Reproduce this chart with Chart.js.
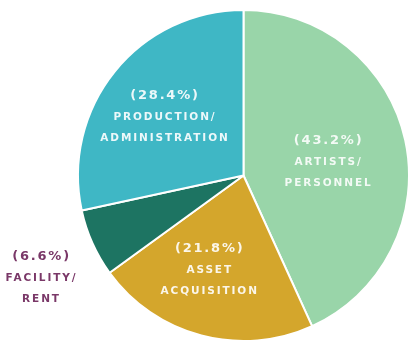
<!DOCTYPE html>
<html>
<head>
<meta charset="utf-8">
<script src="https://cdn.jsdelivr.net/npm/chart.js@4"></script>
<style>
  html, body { margin: 0; padding: 0; background: #ffffff; }
  #wrap { width: 410px; height: 342px; }
</style>
</head>
<body>
<div id="wrap"><canvas id="budgetChart"></canvas></div>
<script>
// budget split, clockwise from 12 o'clock
const categories = ['ARTISTS/ PERSONNEL', 'ASSET ACQUISITION', 'FACILITY/ RENT', 'PRODUCTION/ ADMINISTRATION'];
const shares = [43.2, 21.8, 6.6, 28.4];
const labelLines = [
    ['ARTISTS/', 'PERSONNEL'],
    ['ASSET', 'ACQUISITION'],
    ['FACILITY/', 'RENT'],
    ['PRODUCTION/', 'ADMINISTRATION']
];

const sliceColors = ['#99d5a9', '#d4a62c', '#1d7462', '#3fb7c5'];
const textColors = ['rgba(255,255,255,0.88)', 'rgba(255,255,255,0.9)', '#7a3868', 'rgba(255,255,255,0.9)'];
// label placement: fraction of radius along the slice middle, plus a small turn (deg)
const labelRadius = [0.52, 0.61, 1.37, 0.59];
const labelTurn = [3.6, 4.8, -2.9, -2.4];

const sliceLabels = {
    id: 'sliceLabels',
    afterDraw(chart) {
        const ctx = chart.ctx;
        const arcs = chart.getDatasetMeta(0).data;
        ctx.save();
        ctx.textAlign = 'center';
        ctx.textBaseline = 'middle';
        arcs.forEach((arc, i) => {
            const p = arc.getProps(['x', 'y', 'startAngle', 'endAngle', 'outerRadius'], true);
            const a = (p.startAngle + p.endAngle) / 2 + labelTurn[i] * Math.PI / 180;
            const r = p.outerRadius * labelRadius[i];
            const x = p.x + Math.cos(a) * r;
            const y = p.y + Math.sin(a) * r;
            ctx.fillStyle = textColors[i];

            ctx.font = 'bold 13px "DejaVu Sans"';
            ctx.letterSpacing = '1.8px';
            ctx.fillText('(' + shares[i].toFixed(1) + '%)', x, y - 22);

            ctx.font = 'bold 10.5px "DejaVu Sans"';
            ctx.letterSpacing = '1.9px';
            ctx.fillText(labelLines[i][0], x, y);
            ctx.fillText(labelLines[i][1], x, y + 21);
        });
        ctx.restore();
    }
};

const ctx = document.getElementById('budgetChart').getContext('2d');
new Chart(ctx, {
    type: 'pie',
    data: {
        labels: categories,
        datasets: [{
            data: shares,
            backgroundColor: sliceColors,
            borderColor: '#ffffff',
            borderWidth: 2
        }]
    },
    options: {
        responsive: true,
        maintainAspectRatio: false,
        animation: false,
        layout: { padding: { left: 77, right: -1, top: 9, bottom: -1 } },
        plugins: {
            legend: { display: false },
            tooltip: { enabled: false }
        }
    },
    plugins: [sliceLabels]
});
</script>
</body>
</html>
